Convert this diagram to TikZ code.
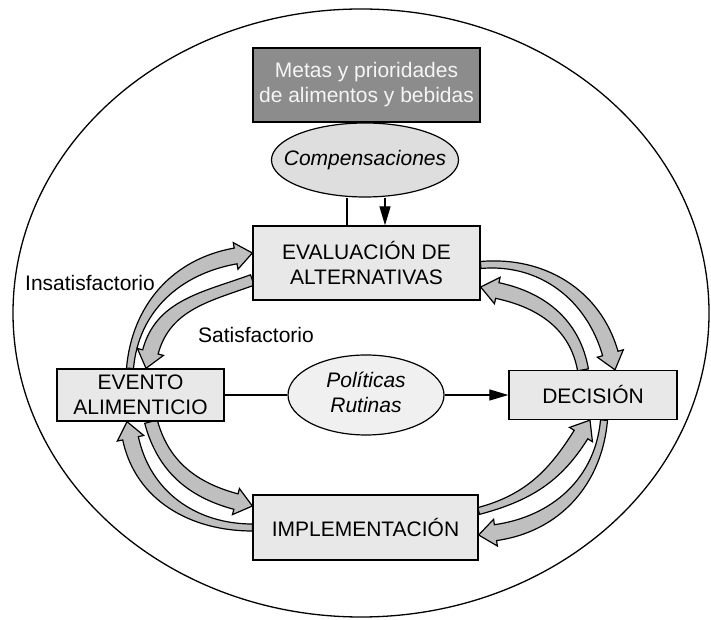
\documentclass[tikz,border=0pt]{standalone}
\usepackage{fontspec}
\setmainfont{Liberation Sans}
\usepackage{tikz}
\usetikzlibrary{arrows.meta, calc, backgrounds, shapes.geometric}

% wide gray arrow: tail, tip, out angle, in angle, tail half width
\newcommand{\fatarrow}[5]{%
  \filldraw[fatshaft]
    ($(#1)+({#3+90}:#5pt)$) to[out=#3,in=#4]
    ($(#2)+(#4:17pt)+({#4-90}:8pt)$) --
    ($(#2)+(#4:17pt)+({#4-90}:13.5pt)$) -- (#2) --
    ($(#2)+(#4:17pt)+({#4+90}:13.5pt)$) --
    ($(#2)+(#4:17pt)+({#4+90}:8pt)$) to[out=#4,in=#3]
    ($(#1)+({#3-90}:#5pt)$) -- cycle;}

\begin{document}
\begin{tikzpicture}[x=1pt, y=1pt,
  txt/.style={font=\fontsize{21}{25}\selectfont},
  box/.style={txt, draw, line width=1.3pt, fill=black!9, align=center, inner sep=0pt},
  oval/.style={txt, ellipse, draw, line width=1.2pt, inner sep=0pt},
  fatshaft/.style={fill=black!25, draw=black, line width=1.2pt, line join=miter},
  link/.style={line width=1.2pt},
  tip/.style={-{Triangle[length=19pt,width=11pt]}}]
  \useasboundingbox (0,0) rectangle (711,620);
  % goals and trade-offs
  \node[oval, fill=black!13, minimum width=187pt, minimum height=74pt] (comp) at (365,460)
    {\makebox[0pt]{\itshape Compensaciones}};
  \node[box, fill=black!45, text=black!4, minimum width=227pt, minimum height=74pt] (metas) at (366.5,535)
    {Metas y prioridades\\de alimentos y bebidas};
  % the four stages
  \node[box, minimum width=227pt, minimum height=74pt] (eval) at (366.5,357) {EVALUACIÓN DE\\ALTERNATIVAS};
  \node[box, minimum width=167pt, minimum height=52pt] (evento) at (140.5,225) {EVENTO\\ALIMENTICIO};
  \node[box, minimum width=168pt, minimum height=49pt] (decision) at (593,225) {DECISIÓN};
  \node[box, minimum width=225pt, minimum height=65pt] (impl) at (365.5,92.5) {IMPLEMENTACIÓN};
  \node[oval, fill=black!6, minimum width=156pt, minimum height=80pt] (pol) at (366,225)
    {\makebox[0pt]{\itshape\begin{tabular}{@{}c@{}}Políticas\\Rutinas\end{tabular}}};
  % labels
  \node[txt] (insat) at (90,337) {Insatisfactorio};
  \node[txt] (sat) at (256,285) {Satisfactorio};
  % thin links
  \draw[link] ([xshift=-18pt]comp.south) -- ([xshift=-18pt]comp.south |- eval.north);
  \draw[link, tip] ([xshift=20pt]comp.south) -- ([xshift=20pt]comp.south |- eval.north);
  \draw[link] (evento) -- (pol);
  \draw[link, tip] (pol) -- (decision);
  % arrow ends
  \coordinate (a1s) at ([xshift=-10.5pt]evento.north);
  \coordinate (a1t) at ([yshift=10pt]eval.west);
  \coordinate (a2s) at ([yshift=-17pt]eval.west);
  \coordinate (a2t) at ([xshift=5.5pt]evento.north);
  \coordinate (b1s) at ([yshift=-2pt]eval.east);
  \coordinate (b1t) at ([xshift=22pt]decision.north);
  \coordinate (b2s) at ([xshift=-10pt]decision.north);
  \coordinate (b2t) at ([yshift=-24pt]eval.east);
  \coordinate (c1s) at ([yshift=16.5pt]impl.east);
  \coordinate (c1t) at ([xshift=-3pt]decision.south);
  \coordinate (c2s) at ([xshift=11pt]decision.south);
  \coordinate (c2t) at ([yshift=-7.5pt]impl.east);
  \coordinate (d1s) at ([xshift=10.5pt]evento.south);
  \coordinate (d1t) at ([yshift=21.5pt]impl.west);
  \coordinate (d2s) at (impl.west);
  \coordinate (d2t) at ([xshift=-13.5pt]evento.south);
  \begin{scope}[on background layer]
    % outer ellipse
    \draw[line width=1.3pt] (361,307) ellipse [x radius=348, y radius=304];
    % wide arrows of the cycle
    \fatarrow{a1s}{a1t}{85}{190}{3.5}
    \fatarrow{a2s}{a2t}{200}{75}{5.5}
    \fatarrow{b1s}{b1t}{5}{106}{3.5}
    \fatarrow{b2s}{b2t}{100}{348}{5.5}
    \fatarrow{c1s}{c1t}{15}{238}{3.5}
    \fatarrow{c2s}{c2t}{265}{8}{3.5}
    \fatarrow{d1s}{d1t}{285}{165}{6.5}
    \fatarrow{d2s}{d2t}{180}{282}{3.5}
  \end{scope}
\end{tikzpicture}
\end{document}
